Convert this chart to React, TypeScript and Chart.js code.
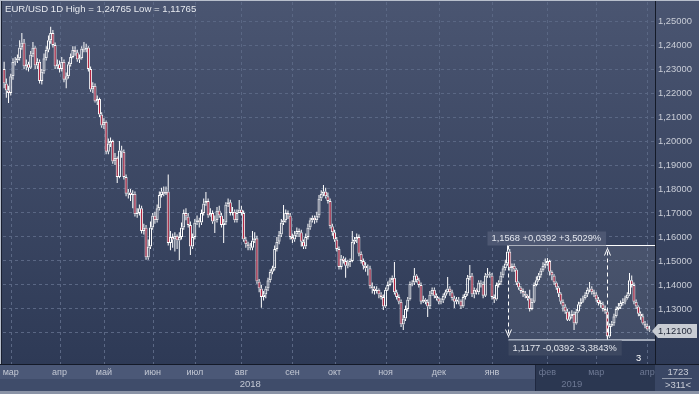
import React, { useEffect, useRef } from "react";
import { Chart, registerables } from "chart.js";

Chart.register(...registerables);

// prices are stored as pips above 1.10000
const BASE = 1.1;
const PIP = 0.0001;

const opens = [
  1300,1240,1210,1200,1270,1330,1335,1345,1390,1410,
  1310,1320,1305,1360,1390,1315,1330,1250,1290,1345,
  1380,1420,1450,1400,1310,1320,1300,1330,1255,1270,
  1320,1350,1380,1370,1340,1345,1385,1380,1390,1300,
  1215,1230,1165,1175,1110,1065,1080,955,990,1000,
  915,930,850,960,955,850,780,785,775,780,
  695,700,720,625,640,515,560,640,690,670,
  720,775,790,780,790,575,600,590,605,585,
  600,640,700,685,650,560,600,660,670,660,
  700,740,750,690,700,665,670,710,690,650,
  660,735,745,700,705,670,700,715,700,590,
  570,560,555,585,595,415,385,350,360,385,
  420,455,470,550,580,610,660,670,700,690,
  600,590,610,625,620,580,560,600,640,670,
  680,670,690,760,780,790,770,750,645,620,
  590,550,475,510,500,480,495,500,580,590,
  600,530,500,480,470,470,395,385,375,380,
  360,350,310,380,400,420,430,370,350,330,
  235,260,300,340,405,410,440,420,400,330,
  340,330,310,360,380,355,345,330,335,355,
  370,385,370,345,330,340,335,310,350,365,
  430,440,360,380,370,410,405,355,440,445,
  440,350,340,400,410,440,470,490,540,470,
  480,465,410,390,375,365,355,345,300,330,
  400,420,440,460,480,490,500,455,440,410,
  390,365,330,310,290,255,270,280,240,290,
  320,330,345,360,380,385,370,360,340,325,
  320,300,290,185,230,240,270,300,310,325,
  330,345,360,420,400,330,310,280,270,240,
  230,215,
];

const closes = [
  1240,1210,1200,1270,1330,1335,1345,1390,1410,1310,
  1320,1305,1360,1390,1315,1330,1250,1290,1345,1380,
  1420,1450,1400,1310,1320,1300,1330,1255,1270,1320,
  1350,1380,1370,1340,1345,1385,1380,1390,1300,1215,
  1230,1165,1175,1110,1065,1080,955,990,1000,915,
  930,850,960,955,850,780,785,775,780,695,
  700,720,625,640,515,560,640,690,670,720,
  775,790,780,790,575,600,590,605,585,600,
  640,700,685,650,560,600,660,670,660,700,
  740,750,690,700,665,670,710,690,650,660,
  735,745,700,705,670,700,715,700,590,570,
  560,555,585,595,415,385,350,360,385,420,
  455,470,550,580,610,660,670,700,690,600,
  590,610,625,620,580,560,600,640,670,680,
  670,690,760,780,790,770,750,645,620,590,
  550,475,510,500,480,495,500,580,590,600,
  530,500,480,470,470,395,385,375,380,360,
  350,310,380,400,420,430,370,350,330,235,
  260,300,340,405,410,440,420,400,330,340,
  330,310,360,380,355,345,330,335,355,370,
  385,370,345,330,340,335,310,350,365,430,
  440,360,380,370,410,405,355,440,445,440,
  350,340,400,410,440,470,490,540,470,480,
  465,410,390,375,365,355,345,300,330,400,
  420,440,460,480,490,500,455,440,410,390,
  365,330,310,290,255,270,280,240,290,320,
  330,345,360,380,385,370,360,340,325,320,
  300,290,185,230,240,270,300,310,325,330,
  345,360,420,400,330,310,280,270,240,230,
  215,210,
];

const highs = [
  1330,1260,1230,1280,1345,1350,1360,1420,1450,1425,
  1340,1330,1375,1412,1395,1345,1340,1300,1365,1395,
  1440,1476.5,1462,1410,1340,1335,1350,1340,1285,1330,
  1365,1395,1395,1380,1360,1395,1412,1405,1395,1310,
  1245,1240,1190,1180,1120,1095,1085,1010,1015,1005,
  950,935,1000,980,965,860,800,800,795,790,
  720,735,730,655,650,590,665,700,705,735,
  790,805,810,810,860,625,615,620,610,620,
  660,715,720,700,665,615,675,690,680,715,
  760,787,760,720,710,690,725,730,700,675,
  745,760,755,725,715,715,754,730,710,600,
  580,575,625,620,605,425,400,375,395,430,
  465,480,565,600,625,675,733,715,710,700,
  615,625,640,635,630,590,615,655,680,690,
  690,705,775,795,817,805,785,760,655,630,
  600,560,525,520,515,505,510,625,600,615,
  610,540,510,495,485,480,410,395,395,385,
  370,360,390,415,430,440,496,380,360,340,
  275,315,350,415,420,471,445,430,410,355,
  345,340,375,390,390,365,350,345,365,380,
  433,395,380,355,350,350,340,360,375,442,
  483,450,390,385,420,420,415,450,471,455,
  450,360,410,420,455,480,505,568,550,490,
  490,470,415,395,385,375,360,380,345,410,
  435,450,470,495,510,512,505,460,445,415,
  395,370,340,320,300,290,295,290,300,330,
  345,355,370,390,412,395,380,370,350,335,
  330,315,300,240,250,280,310,325,335,345,
  355,370,450,440,410,340,315,290,280,250,
  240,230,
];

const lows = [
  1220,1180,1158,1190,1255,1315,1325,1335,1380,1300,
  1295,1290,1300,1350,1300,1300,1240,1235,1280,1335,
  1370,1405,1390,1300,1300,1285,1290,1245,1220,1260,
  1310,1345,1355,1330,1325,1340,1370,1370,1290,1205,
  1200,1160,1150,1100,1055,1050,945,945,975,905,
  900,825,845,930,840,770,760,750,720,685,
  680,690,615,610,505,505,550,630,655,660,
  710,765,770,775,565,545,555,540,550,504,
  590,630,670,640,525,550,590,650,640,650,
  690,730,680,685,655,617,660,680,640,575,
  650,725,690,690,660,660,700,690,580,555,
  545,545,545,575,405,370,305,335,345,375,
  410,445,460,540,570,600,650,660,675,590,
  575,580,600,600,560,550,550,590,630,660,
  655,660,680,750,770,760,740,635,605,580,
  540,465,465,490,430,470,475,495,570,575,
  520,490,465,455,440,385,365,360,365,345,
  340,296,305,375,395,410,360,340,320,225,
  212,250,290,335,395,400,410,390,320,325,
  320,267,300,355,345,335,320,320,325,345,
  365,355,335,304,320,320,300,305,340,355,
  420,350,345,360,360,390,345,350,430,430,
  340,325,335,390,400,430,460,480,460,455,
  455,400,380,365,350,345,335,290,295,325,
  395,415,430,455,470,480,440,420,400,380,
  350,320,290,280,250,250,260,212,235,285,
  310,325,340,350,370,360,350,330,315,305,
  290,280,176.5,180,225,230,265,295,300,315,
  320,340,355,390,320,300,270,255,235,220,
  210,205,
];

const EMPTY_SLOTS = 2; // free slots at the right edge
const monthStarts = [3, 25, 45, 67, 86, 107, 130, 149, 172, 196, 220, 245, 267, 290];
const monthNames = ["мар", "апр", "май", "июн", "июл", "авг", "сен", "окт", "ноя", "дек", "янв", "фев", "мар", "апр"];
const yearNames = ["2018", "2019"];
const yearLabelIdx = [111, 256];
const year2019Start = 240;

const Y_MIN = 1.107083;
const Y_MAX = 1.257917;
const Y_STEP = 0.01;

const TITLE = "EUR/USD 1D High = 1,24765 Low = 1,11765";
const LAST_PRICE = 1.121;
const measureIdx = [227, 272];
const measurePrices = [1.1568, 1.1177];
const measureTexts = ["1,1568 +0,0392 +3,5029%", "1,1177 -0,0392 -3,3843%"];
const barsInfo = ["1723", ">311<"];

const FONT = '"Liberation Sans", Arial, sans-serif';
const RED = "#c0203c";
const WHITE = "#ffffff";

const px = (v: number) => +(BASE + v * PIP).toFixed(6);

export default function App() {
  const ref = useRef<HTMLCanvasElement>(null);

  useEffect(() => {
    const canvas = ref.current!;
    const n = closes.length;
    const labels = Array.from({ length: n + EMPTY_SLOTS }, (_, i) => String(i));
    const bodyData: any[] = [];
    const upData: any[] = [];
    const loData: any[] = [];
    for (let i = 0; i < n; i++) {
      const o = px(opens[i]);
      const c = px(closes[i]);
      const h = px(highs[i]);
      const l = px(lows[i]);
      bodyData.push([o, c]);
      upData.push([Math.max(o, c), h]);
      loData.push([l, Math.min(o, c)]);
    }

    const bgPlugin = {
      id: "bg",
      beforeDraw(chart: any) {
        const ctx = chart.ctx as CanvasRenderingContext2D;
        const W = chart.width;
        const ca = chart.chartArea;
        ctx.save();
        const g = ctx.createLinearGradient(0, 0, 0, ca.bottom);
        g.addColorStop(0, "#4a5571");
        g.addColorStop(1, "#2e3a56");
        ctx.fillStyle = g;
        ctx.fillRect(0, 0, W, ca.bottom);
        const xs = chart.scales.x;
        const x19 = Math.round(xs.getPixelForValue(year2019Start) - 1);
        ctx.fillStyle = "#4b5877";
        ctx.fillRect(0, ca.bottom, ca.right, 15);
        ctx.fillStyle = "#3f4c6a";
        ctx.fillRect(0, ca.bottom + 15, ca.right, 12);
        ctx.fillStyle = "#2b3751";
        ctx.fillRect(x19, ca.bottom, ca.right - x19, 27);
        ctx.fillStyle = "#1f2840";
        ctx.fillRect(x19, ca.bottom, 1, 27);
        ctx.fillStyle = "#3a4765";
        ctx.fillRect(ca.right, ca.bottom, W - ca.right, 27);
        ctx.restore();
      },
      beforeDatasetsDraw(chart: any) {
        const ctx = chart.ctx as CanvasRenderingContext2D;
        const ca = chart.chartArea;
        const xs = chart.scales.x;
        const ys = chart.scales.y;
        ctx.save();
        ctx.strokeStyle = "#5a6784";
        ctx.lineWidth = 1;
        ctx.setLineDash([3, 3]);
        for (const m of monthStarts) {
          const x = Math.round(xs.getPixelForValue(m)) + 0.5;
          ctx.beginPath();
          ctx.moveTo(x, ca.top);
          ctx.lineTo(x, ca.bottom);
          ctx.stroke();
        }
        ctx.setLineDash([]);
        const xl = Math.round(xs.getPixelForValue(measureIdx[0])) + 0.5;
        const yt = Math.round(ys.getPixelForValue(measurePrices[0])) + 0.5;
        const yb = Math.round(ys.getPixelForValue(measurePrices[1])) + 0.5;
        ctx.fillStyle = "rgba(255,255,255,0.09)";
        ctx.fillRect(xl, yt, ca.right - xl, yb - yt);
        ctx.restore();
      },
      afterDraw(chart: any) {
        const ctx = chart.ctx as CanvasRenderingContext2D;
        const W = chart.width;
        const H = chart.height;
        const ca = chart.chartArea;
        const xs = chart.scales.x;
        const ys = chart.scales.y;
        ctx.save();

        const xl = Math.round(xs.getPixelForValue(measureIdx[0])) + 0.5;
        const xm = Math.round(xs.getPixelForValue(measureIdx[1])) + 0.5;
        const yt = Math.round(ys.getPixelForValue(measurePrices[0])) + 0.5;
        const yb = Math.round(ys.getPixelForValue(measurePrices[1])) + 0.5;
        ctx.lineWidth = 1;
        ctx.strokeStyle = WHITE;
        ctx.beginPath();
        ctx.moveTo(xl, yt);
        ctx.lineTo(ca.right, yt);
        ctx.stroke();
        ctx.strokeStyle = "#a3abbb";
        ctx.lineWidth = 2;
        ctx.beginPath();
        ctx.moveTo(xl, yb + 0.5);
        ctx.lineTo(ca.right, yb + 0.5);
        ctx.stroke();
        ctx.lineWidth = 1;
        ctx.strokeStyle = WHITE;
        ctx.setLineDash([4, 3]);
        ctx.beginPath();
        ctx.moveTo(xl, yt);
        ctx.lineTo(xl, yb - 2);
        ctx.moveTo(xm, yb);
        ctx.lineTo(xm, yt + 2);
        ctx.stroke();
        ctx.setLineDash([]);
        ctx.beginPath();
        ctx.moveTo(xl - 3, yb - 10);
        ctx.lineTo(xl, yb - 3);
        ctx.lineTo(xl + 3, yb - 10);
        ctx.moveTo(xm - 3, yt + 10);
        ctx.lineTo(xm, yt + 3);
        ctx.lineTo(xm + 3, yt + 10);
        ctx.stroke();

        ctx.font = `9.3px ${FONT}`;
        ctx.textBaseline = "middle";
        ctx.textAlign = "left";
        const w1 = ctx.measureText(measureTexts[0]).width;
        ctx.fillStyle = "rgba(78,89,115,0.95)";
        ctx.fillRect(xl - 21, yt - 14, w1 + 9, 14);
        ctx.fillStyle = "#e4e7ee";
        ctx.fillText(measureTexts[0], xl - 17, yt - 7);
        const w2 = ctx.measureText(measureTexts[1]).width;
        ctx.fillStyle = "rgba(62,73,98,0.95)";
        ctx.fillRect(xl, yb + 1, w2 + 9, 15);
        ctx.fillStyle = "#e4e7ee";
        ctx.fillText(measureTexts[1], xl + 4, yb + 9);
        ctx.fillStyle = WHITE;
        ctx.fillText("3", ca.right - 19, ca.bottom - 6);

        ctx.fillStyle = "#141a28";
        ctx.fillRect(ca.right, 0, 1, ca.bottom);
        ctx.fillRect(0, ca.bottom, W, 1);

        const yp = Math.round(ys.getPixelForValue(LAST_PRICE));
        ctx.fillStyle = "#c8ccd3";
        ctx.beginPath();
        ctx.moveTo(ca.right - 3, yp);
        ctx.lineTo(ca.right + 3, yp - 7);
        ctx.lineTo(W - 2, yp - 7);
        ctx.lineTo(W - 2, yp + 7);
        ctx.lineTo(ca.right + 3, yp + 7);
        ctx.closePath();
        ctx.fill();
        ctx.fillStyle = "#1e2536";
        ctx.font = `9.4px ${FONT}`;
        ctx.fillText(LAST_PRICE.toFixed(5).replace(".", ","), ca.right + 3, yp + 0.5);

        ctx.font = `9px ${FONT}`;
        ctx.textAlign = "center";
        monthStarts.forEach((m, k) => {
          const x = xs.getPixelForValue(m);
          ctx.fillStyle = m >= year2019Start ? "#6d7893" : "#c3c8d4";
          ctx.fillText(monthNames[k], x, ca.bottom + 9);
        });
        ctx.font = `9.5px ${FONT}`;
        yearNames.forEach((t, k) => {
          ctx.fillStyle = yearLabelIdx[k] >= year2019Start ? "#6d7893" : "#c3c8d4";
          ctx.fillText(t, xs.getPixelForValue(yearLabelIdx[k]), ca.bottom + 20);
        });

        const cx = (ca.right + W) / 2 + 1;
        ctx.fillStyle = "#c8ccd6";
        ctx.fillText(barsInfo[0], cx, ca.bottom + 8);
        ctx.fillText(barsInfo[1], cx, ca.bottom + 21);
        ctx.fillStyle = "#8f98ab";
        ctx.fillRect(ca.right + 7, ca.bottom + 14, W - ca.right - 14, 1);

        ctx.fillStyle = "#8a93a6";
        ctx.fillRect(0, H - 3, W, 3);
        ctx.fillStyle = "#b8bfcc";
        ctx.fillRect(0, 0, W, 1);
        ctx.fillRect(0, 0, 1, ca.bottom);
        ctx.fillStyle = "#1a2030";
        ctx.fillRect(1, 1, 1, ca.bottom - 1);

        ctx.textAlign = "left";
        ctx.fillStyle = "#e6e9ef";
        ctx.font = `9.6px ${FONT}`;
        ctx.fillText(TITLE, 5, 9);
        ctx.restore();
      },
    };

    const common = { grouped: false, inflateAmount: 0, borderSkipped: false as const };

    const chart = new Chart(canvas, {
      type: "bar",
      data: {
        labels,
        datasets: [
          {
            label: "body",
            data: bodyData,
            order: 0,
            barThickness: 3,
            borderWidth: 1,
            borderColor: WHITE,
            backgroundColor: (ctx: any) =>
              closes[ctx.dataIndex] < opens[ctx.dataIndex] ? RED : "rgba(0,0,0,0)",
            ...common,
          } as any,
          {
            label: "wickUp",
            data: upData,
            order: 1,
            barThickness: 1,
            borderWidth: 0,
            backgroundColor: WHITE,
            ...common,
          } as any,
          {
            label: "wickDown",
            data: loData,
            order: 1,
            barThickness: 1,
            borderWidth: 0,
            backgroundColor: WHITE,
            ...common,
          } as any,
        ],
      },
      options: {
        responsive: false,
        maintainAspectRatio: false,
        animation: false,
        devicePixelRatio: 1,
        events: [],
        layout: { padding: { left: 3, top: 2, right: 0, bottom: 0 } },
        plugins: { legend: { display: false }, tooltip: { enabled: false }, title: { display: false } },
        scales: {
          x: {
            type: "category",
            offset: true,
            grid: { display: false },
            border: { display: false },
            ticks: { display: false },
            afterFit: (s: any) => {
              s.height = 30;
              s.paddingLeft = 0;
              s.paddingRight = 0;
            },
          },
          y: {
            position: "right",
            min: Y_MIN,
            max: Y_MAX,
            border: { display: false, dash: [3, 3] },
            grid: {
              drawTicks: false,
              lineWidth: 1,
              color: (ctx: any) => (ctx.tick && ctx.tick.value < 1.115 ? "rgba(0,0,0,0)" : "#5a6784"),
            },
            ticks: {
              stepSize: Y_STEP,
              includeBounds: false,
              padding: 3,
              color: "#c9cdd7",
              font: { family: FONT, size: 9.4 },
              callback: (v: any) => (v < 1.115 ? "" : Number(v).toFixed(5).replace(".", ",")),
            },
            afterFit: (s: any) => {
              s.width = 44;
              s.paddingTop = 0;
              s.paddingBottom = 0;
            },
          },
        },
      },
      plugins: [bgPlugin],
    } as any);

    return () => chart.destroy();
  }, []);

  return (
    <div style={{ position: "fixed", left: 0, top: 0, width: 699, height: 394 }}>
      <canvas ref={ref} width={699} height={394} style={{ display: "block", width: 699, height: 394 }} />
    </div>
  );
}
